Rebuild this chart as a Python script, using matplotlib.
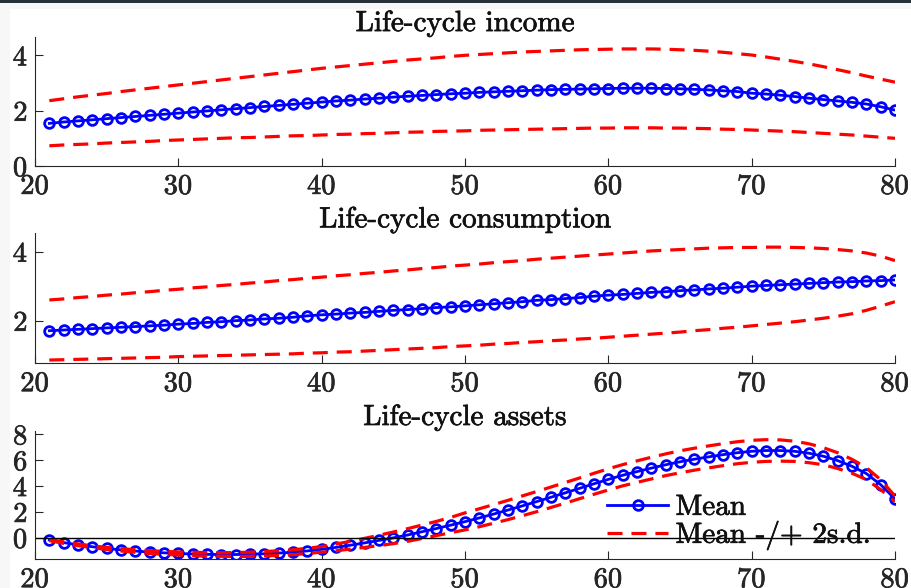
import numpy as np
import matplotlib
matplotlib.use("Agg")
from matplotlib import pyplot as plt
from matplotlib.patches import Rectangle
import matplotlib.patheffects as pe

# ages 21..80
ages = list(range(21, 81))

income_mean = [1.54, 1.59, 1.63, 1.67, 1.71, 1.75, 1.79, 1.83, 1.87, 1.91,
               1.95, 1.99, 2.03, 2.07, 2.11, 2.15, 2.19, 2.23, 2.27, 2.31,
               2.35, 2.38, 2.42, 2.45, 2.49, 2.52, 2.55, 2.58, 2.61, 2.63,
               2.66, 2.68, 2.70, 2.72, 2.74, 2.76, 2.77, 2.78, 2.79, 2.80,
               2.81, 2.81, 2.81, 2.80, 2.79, 2.77, 2.75, 2.72, 2.69, 2.63,
               2.60, 2.56, 2.51, 2.45, 2.40, 2.35, 2.30, 2.24, 2.14, 2.02]
income_upper = [2.36, 2.43, 2.50, 2.56, 2.62, 2.69, 2.75, 2.81, 2.87, 2.93,
                2.99, 3.05, 3.11, 3.17, 3.23, 3.29, 3.35, 3.41, 3.47, 3.53,
                3.58, 3.63, 3.68, 3.73, 3.78, 3.83, 3.87, 3.91, 3.96, 4.00,
                4.03, 4.06, 4.09, 4.12, 4.14, 4.16, 4.18, 4.20, 4.21, 4.22,
                4.23, 4.23, 4.23, 4.22, 4.20, 4.18, 4.15, 4.11, 4.06, 4.01,
                3.94, 3.86, 3.78, 3.69, 3.59, 3.48, 3.37, 3.25, 3.14, 3.03]
income_lower = [0.73, 0.76, 0.78, 0.80, 0.83, 0.85, 0.87, 0.89, 0.92, 0.94,
                0.96, 0.98, 1.00, 1.02, 1.03, 1.05, 1.07, 1.09, 1.10, 1.12,
                1.14, 1.15, 1.17, 1.18, 1.20, 1.22, 1.23, 1.25, 1.26, 1.27,
                1.29, 1.30, 1.31, 1.32, 1.33, 1.34, 1.35, 1.36, 1.37, 1.37,
                1.38, 1.38, 1.38, 1.37, 1.37, 1.36, 1.35, 1.33, 1.32, 1.30,
                1.28, 1.26, 1.24, 1.21, 1.18, 1.15, 1.12, 1.08, 1.04, 1.00]

cons_mean = [1.71, 1.73, 1.75, 1.77, 1.79, 1.81, 1.83, 1.85, 1.87, 1.90,
             1.92, 1.95, 1.97, 2.00, 2.02, 2.05, 2.07, 2.10, 2.14, 2.17,
             2.19, 2.22, 2.24, 2.27, 2.30, 2.32, 2.35, 2.38, 2.40, 2.43,
             2.46, 2.49, 2.52, 2.55, 2.59, 2.61, 2.64, 2.67, 2.71, 2.74,
             2.76, 2.79, 2.82, 2.84, 2.87, 2.89, 2.92, 2.94, 2.97, 3.00,
             3.02, 3.04, 3.06, 3.08, 3.10, 3.12, 3.13, 3.15, 3.16, 3.18]
cons_upper = [2.60, 2.63, 2.67, 2.70, 2.74, 2.77, 2.81, 2.84, 2.88, 2.91,
              2.95, 2.98, 3.02, 3.05, 3.09, 3.12, 3.16, 3.19, 3.23, 3.26,
              3.30, 3.33, 3.37, 3.40, 3.44, 3.47, 3.51, 3.54, 3.58, 3.61,
              3.64, 3.68, 3.71, 3.74, 3.78, 3.81, 3.84, 3.87, 3.90, 3.93,
              3.96, 3.99, 4.02, 4.04, 4.06, 4.08, 4.10, 4.11, 4.12, 4.12,
              4.13, 4.13, 4.12, 4.11, 4.09, 4.06, 4.02, 3.96, 3.87, 3.74]
cons_lower = [0.86, 0.87, 0.88, 0.89, 0.90, 0.91, 0.92, 0.93, 0.94, 0.96,
              0.97, 0.98, 0.99, 1.00, 1.01, 1.02, 1.03, 1.04, 1.06, 1.07,
              1.09, 1.10, 1.12, 1.14, 1.16, 1.18, 1.20, 1.22, 1.25, 1.27,
              1.29, 1.32, 1.34, 1.37, 1.39, 1.42, 1.44, 1.47, 1.49, 1.52,
              1.55, 1.58, 1.61, 1.64, 1.67, 1.71, 1.74, 1.78, 1.81, 1.85,
              1.89, 1.93, 1.97, 2.02, 2.07, 2.13, 2.20, 2.30, 2.42, 2.55]

assets_mean = [-0.18, -0.38, -0.55, -0.70, -0.83, -0.94, -1.03, -1.11, -1.17, -1.22,
               -1.26, -1.29, -1.30, -1.30, -1.28, -1.24, -1.19, -1.12, -1.02, -0.90,
               -0.75, -0.58, -0.40, -0.21, -0.01, 0.21, 0.46, 0.71, 0.97, 1.24,
               1.53, 1.83, 2.14, 2.46, 2.79, 3.13, 3.47, 3.82, 4.17, 4.51,
               4.83, 5.11, 5.38, 5.64, 5.87, 6.07, 6.25, 6.42, 6.57, 6.68,
               6.74, 6.74, 6.68, 6.53, 6.30, 5.96, 5.52, 4.96, 4.10, 3.00]
assets_upper = [-0.13, -0.32, -0.48, -0.63, -0.75, -0.85, -0.93, -1.00, -1.06, -1.10,
                -1.13, -1.15, -1.16, -1.15, -1.12, -1.07, -1.01, -0.93, -0.82, -0.68,
                -0.49, -0.28, -0.05, 0.19, 0.44, 0.70, 0.98, 1.26, 1.57, 1.92,
                2.24, 2.56, 2.89, 3.23, 3.57, 3.92, 4.27, 4.62, 4.98, 5.33,
                5.65, 5.94, 6.22, 6.48, 6.72, 6.92, 7.10, 7.27, 7.42, 7.53,
                7.58, 7.56, 7.46, 7.26, 6.96, 6.57, 6.06, 5.42, 4.48, 3.22]
assets_lower = [-0.23, -0.44, -0.62, -0.77, -0.91, -1.03, -1.13, -1.22, -1.28, -1.34,
                -1.39, -1.43, -1.44, -1.45, -1.44, -1.41, -1.37, -1.31, -1.22, -1.12,
                -1.01, -0.88, -0.75, -0.61, -0.46, -0.28, -0.06, 0.16, 0.39, 0.60,
                0.85, 1.12, 1.40, 1.70, 2.01, 2.34, 2.67, 3.02, 3.36, 3.69,
                4.01, 4.28, 4.54, 4.80, 5.02, 5.22, 5.40, 5.57, 5.72, 5.83,
                5.90, 5.92, 5.90, 5.80, 5.64, 5.35, 4.98, 4.50, 3.72, 2.78]

panels = [
    ("Life-cycle income", income_mean, income_upper, income_lower,
     (0, 4.66), [0, 2, 4], [0.7177, 0.937]),
    ("Life-cycle consumption", cons_mean, cons_upper, cons_lower,
     (0.765, 4.53), [2, 4], [0.3821, 0.6032]),
    ("Life-cycle assets", assets_mean, assets_upper, assets_lower,
     (-1.67, 8.25), [0, 2, 4, 6, 8], [0.0488, 0.267]),
]

plt.rcParams['font.family'] = ['cmr10', 'DejaVu Serif']
plt.rcParams['axes.formatter.use_mathtext'] = True
axcol = '#262626'
txtcol = '#111111'
fs = 20.5
fs_title = 21
bold = [pe.withStroke(linewidth=0.5, foreground=axcol)]
bold_t = [pe.withStroke(linewidth=0.5, foreground=txtcol)]

fig = plt.figure(figsize=(9.12, 5.88), dpi=100, facecolor='#f7f7f7')
fig.add_artist(Rectangle((10 / 912, 0), 1, 1 - 9 / 588, transform=fig.transFigure,
                         facecolor='white', edgecolor='none', zorder=0))
fig.add_artist(Rectangle((0, 1 - 3 / 588), 1, 3 / 588, transform=fig.transFigure,
                         facecolor='#263238', edgecolor='none', zorder=0))

left, right = 35 / 912, 895 / 912
for title, mean, upper, lower, ylim, yticks, (b, t) in panels:
    ax = fig.add_axes([left, b, right - left, t - b])
    ax.set_facecolor('none')
    ax.plot(ages, mean, color='b', lw=2.0, marker='o', ms=7, mew=2.0,
            mfc='none', label='Mean')
    ax.plot(ages, upper, color='r', lw=2.3, ls=(0, (4.7, 2.8)),
            label='Mean -/+ 2s.d.')
    ax.plot(ages, lower, color='r', lw=2.3, ls=(0, (4.7, 2.8)))
    ax.set_xlim(20, 80)
    ax.set_ylim(*ylim)
    ax.set_xticks([20, 30, 40, 50, 60, 70, 80])
    ax.set_yticks(yticks)
    ax.spines['top'].set_visible(False)
    ax.spines['right'].set_visible(False)
    for s in ('left', 'bottom'):
        ax.spines[s].set_color(axcol)
        ax.spines[s].set_linewidth(0.8)
    ax.tick_params(direction='in', length=6, width=0.8, color=axcol,
                   labelcolor=axcol, labelsize=fs)
    ax.tick_params(axis='y', pad=5)
    ax.tick_params(axis='x', pad=5.5)
    for lab in ax.get_xticklabels() + ax.get_yticklabels():
        lab.set_path_effects(bold)
    ax.set_title(title, fontsize=fs_title, pad=3, color=txtcol,
                 path_effects=bold_t)
    if title == "Life-cycle assets":
        ax.plot([20, 80], [0, 0], color='k', lw=1.0)
        leg = ax.legend(loc='center left',
                        bbox_to_anchor=((607 - 35) / 860, 0.29),
                        frameon=False, fontsize=fs_title, handlelength=2.1,
                        handletextpad=0.25, labelspacing=0.0, borderpad=0,
                        borderaxespad=0)
        for txt in leg.get_texts():
            txt.set_color(txtcol)
            txt.set_path_effects(bold_t)

fig.savefig("out.png", dpi=100, facecolor=fig.get_facecolor())
